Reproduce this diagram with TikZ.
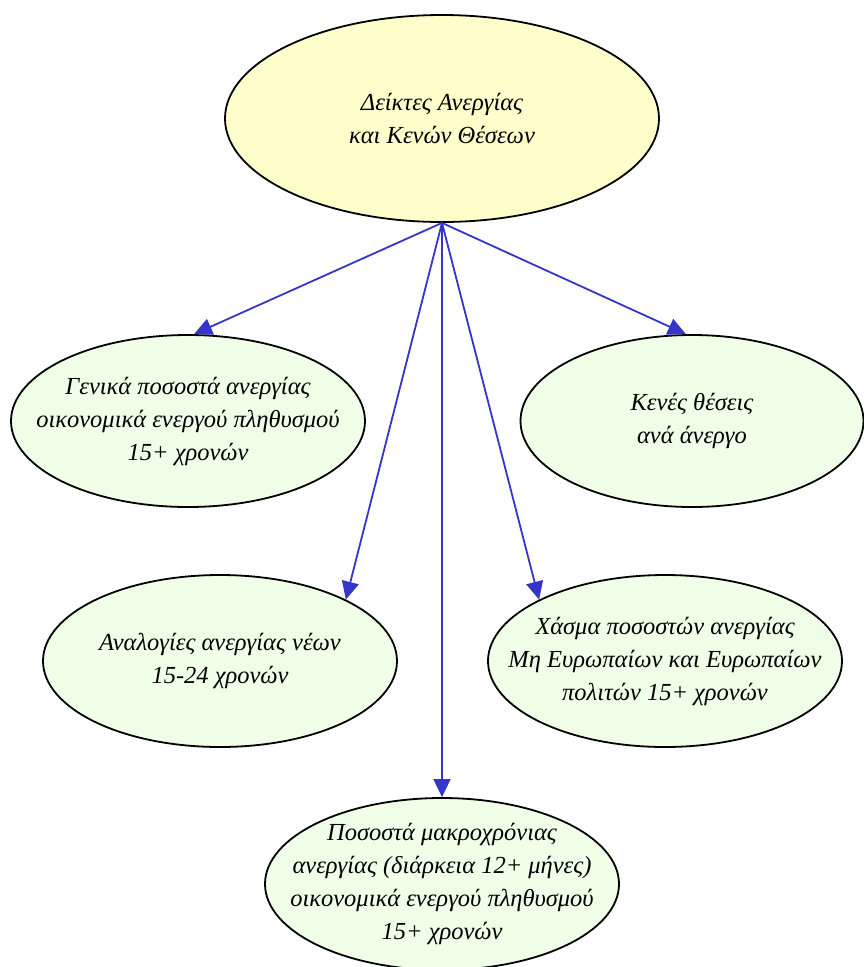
\documentclass[tikz,border=0pt]{standalone}
\usepackage{fontspec}
\setmainfont{Liberation Serif}
\usetikzlibrary{shapes.geometric,arrows.meta}
\definecolor{topfill}{HTML}{FFFFCC}
\definecolor{leaffill}{HTML}{EFFFE8}
\definecolor{arrowblue}{HTML}{3535C8}
\tikzset{
  bubble/.style={ellipse,draw=black,line width=1.8pt,inner xsep=-150pt,inner ysep=-60pt,align=center,
    font=\fontsize{24.5}{33}\selectfont\itshape},
  rootbubble/.style={bubble,fill=topfill,minimum width=434pt,minimum height=207pt},
  leafbubble/.style={bubble,fill=leaffill,minimum width=354pt,minimum height=172pt},
  link/.style={draw=arrowblue,line width=1.8pt,-{Triangle[length=18pt,width=17pt]}}
}
\begin{document}
\begin{tikzpicture}[x=1pt,y=-1pt]
\useasboundingbox (0,0) rectangle (864,967);
\node[rootbubble] (root) at (442,118.5) {Δείκτες Ανεργίας\\και Κενών Θέσεων};
\node[leafbubble] (gen) at (188,421) {Γενικά ποσοστά ανεργίας\\οικονομικά ενεργού πληθυσμού\\15+ χρονών};
\node[leafbubble,minimum width=343pt] (vac) at (692,421) {Κενές θέσεις\\ανά άνεργο};
\node[leafbubble] (youth) at (220,661) {Αναλογίες ανεργίας νέων\\15-24 χρονών};
\node[leafbubble] (gap) at (665,661) {Χάσμα ποσοστών ανεργίας\\Μη Ευρωπαίων και Ευρωπαίων\\πολιτών 15+ χρονών};
\node[leafbubble] (long) at (442,884) {Ποσοστά μακροχρόνιας\\ανεργίας (διάρκεια 12+ μήνες)\\οικονομικά ενεργού πληθυσμού\\15+ χρονών};
\draw[link] (root.south) -- (gen.86);
\draw[link] (root.south) -- (vac.94);
\draw[link] (root.south) -- (youth.26);
\draw[link] (root.south) -- (gap.154);
\draw[link] (root.south) -- (long.north);
\end{tikzpicture}
\end{document}
